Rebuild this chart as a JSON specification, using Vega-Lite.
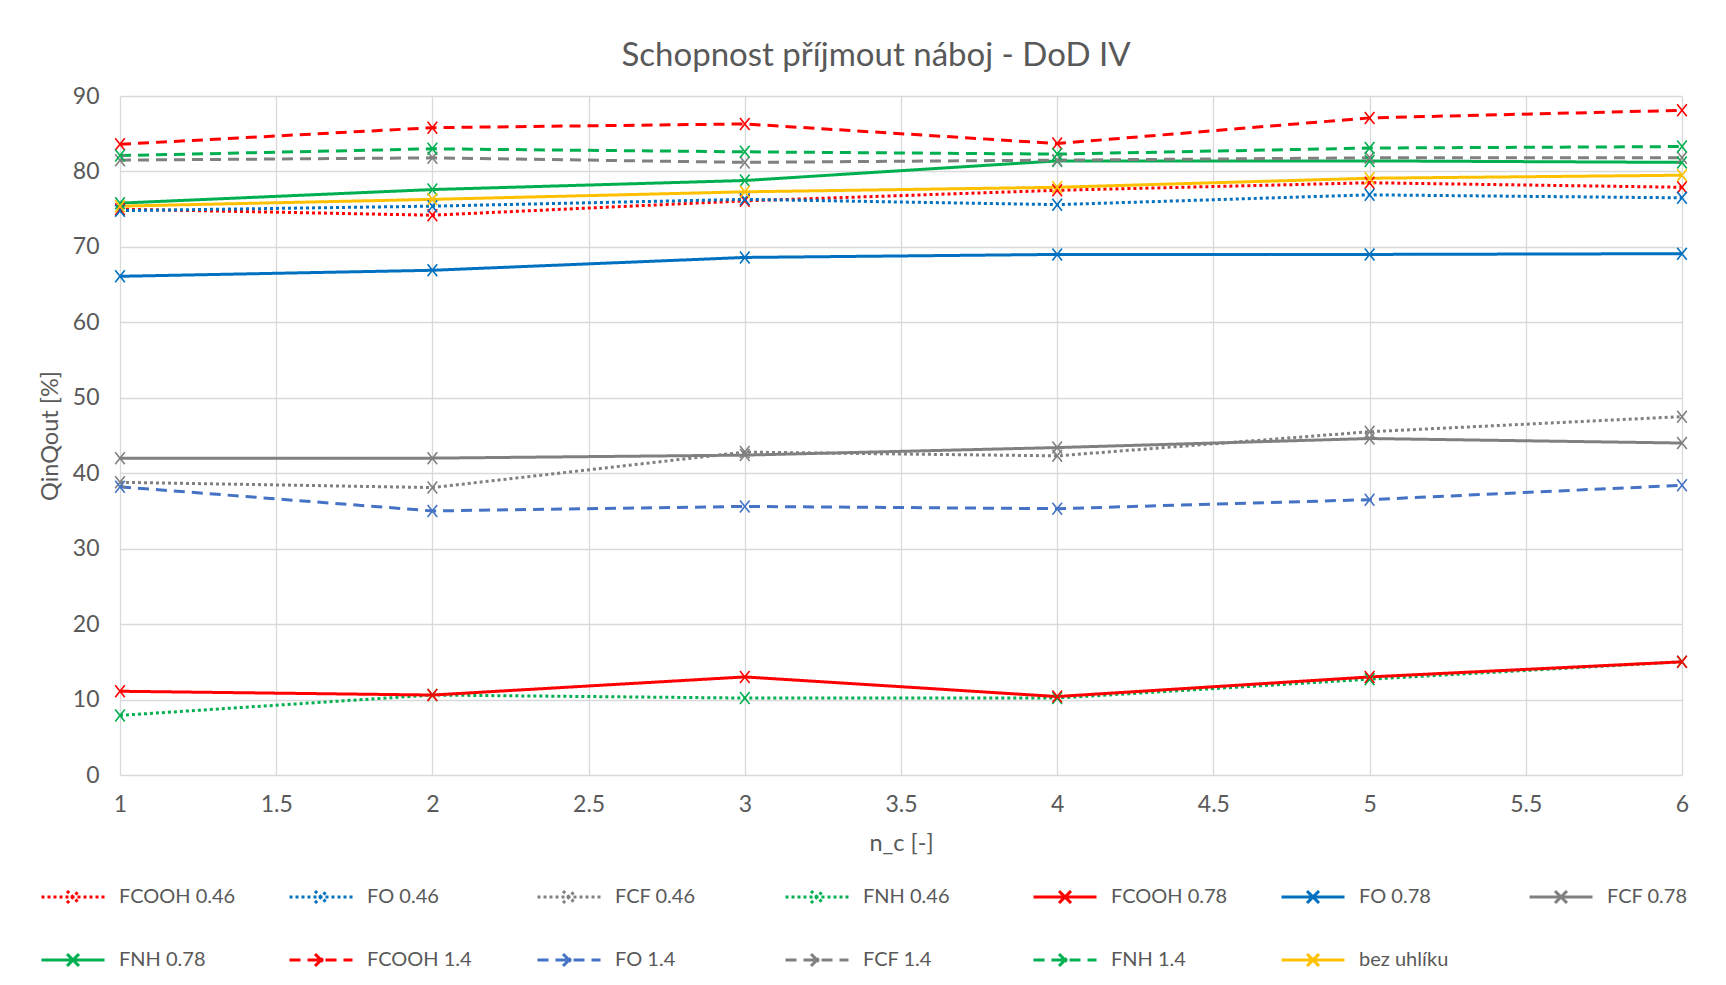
{
  "$schema": "https://vega.github.io/schema/vega-lite/v6.json",
  "width": 1562,
  "height": 679,
  "autosize": {"type": "none"},
  "padding": {"left": 120, "top": 96, "right": 44, "bottom": 210},
  "background": "white",
  "config": {
    "view": {"stroke": null},
    "font": "Lato",
    "axis": {"labelFont": "Lato", "titleFont": "Lato", "labelColor": "#595959", "titleColor": "#595959", "titleFontWeight": "normal", "labelFontSize": 23, "titleFontSize": 23.5, "gridColor": "#D9D9D9", "gridWidth": 1.3, "domain": false, "ticks": false},
    "legend": {"labelFont": "Lato", "labelFontSize": 20, "labelColor": "#595959"}
  },
  "title": {"text": "Schopnost příjmout náboj - DoD IV", "fontSize": 33, "font": "Lato", "fontWeight": "normal", "color": "#595959", "anchor": "middle", "dx": -25, "offset": 12},
  "data": {"values": [
    {"s": "FCOOH 0.46", "x": 1, "y": 75.0}, {"s": "FCOOH 0.46", "x": 2, "y": 74.2}, {"s": "FCOOH 0.46", "x": 3, "y": 76.1}, {"s": "FCOOH 0.46", "x": 4, "y": 77.5}, {"s": "FCOOH 0.46", "x": 5, "y": 78.5}, {"s": "FCOOH 0.46", "x": 6, "y": 77.9},
    {"s": "FO 0.46", "x": 1, "y": 74.8}, {"s": "FO 0.46", "x": 2, "y": 75.4}, {"s": "FO 0.46", "x": 3, "y": 76.3}, {"s": "FO 0.46", "x": 4, "y": 75.6}, {"s": "FO 0.46", "x": 5, "y": 76.9}, {"s": "FO 0.46", "x": 6, "y": 76.5},
    {"s": "FCF 0.46", "x": 1, "y": 38.8}, {"s": "FCF 0.46", "x": 2, "y": 38.1}, {"s": "FCF 0.46", "x": 3, "y": 42.8}, {"s": "FCF 0.46", "x": 4, "y": 42.3}, {"s": "FCF 0.46", "x": 5, "y": 45.5}, {"s": "FCF 0.46", "x": 6, "y": 47.5},
    {"s": "FNH 0.46", "x": 1, "y": 7.9}, {"s": "FNH 0.46", "x": 2, "y": 10.6}, {"s": "FNH 0.46", "x": 3, "y": 10.2}, {"s": "FNH 0.46", "x": 4, "y": 10.2}, {"s": "FNH 0.46", "x": 5, "y": 12.7}, {"s": "FNH 0.46", "x": 6, "y": 15.0},
    {"s": "FCOOH 0.78", "x": 1, "y": 11.1}, {"s": "FCOOH 0.78", "x": 2, "y": 10.6}, {"s": "FCOOH 0.78", "x": 3, "y": 13.0}, {"s": "FCOOH 0.78", "x": 4, "y": 10.4}, {"s": "FCOOH 0.78", "x": 5, "y": 13.0}, {"s": "FCOOH 0.78", "x": 6, "y": 15.0},
    {"s": "FO 0.78", "x": 1, "y": 66.1}, {"s": "FO 0.78", "x": 2, "y": 66.9}, {"s": "FO 0.78", "x": 3, "y": 68.6}, {"s": "FO 0.78", "x": 4, "y": 69.0}, {"s": "FO 0.78", "x": 5, "y": 69.0}, {"s": "FO 0.78", "x": 6, "y": 69.1},
    {"s": "FCF 0.78", "x": 1, "y": 42.0}, {"s": "FCF 0.78", "x": 2, "y": 42.0}, {"s": "FCF 0.78", "x": 3, "y": 42.4}, {"s": "FCF 0.78", "x": 4, "y": 43.4}, {"s": "FCF 0.78", "x": 5, "y": 44.6}, {"s": "FCF 0.78", "x": 6, "y": 44.0},
    {"s": "FNH 0.78", "x": 1, "y": 75.8}, {"s": "FNH 0.78", "x": 2, "y": 77.6}, {"s": "FNH 0.78", "x": 3, "y": 78.8}, {"s": "FNH 0.78", "x": 4, "y": 81.4}, {"s": "FNH 0.78", "x": 5, "y": 81.4}, {"s": "FNH 0.78", "x": 6, "y": 81.2},
    {"s": "FCOOH 1.4", "x": 1, "y": 83.6}, {"s": "FCOOH 1.4", "x": 2, "y": 85.8}, {"s": "FCOOH 1.4", "x": 3, "y": 86.3}, {"s": "FCOOH 1.4", "x": 4, "y": 83.7}, {"s": "FCOOH 1.4", "x": 5, "y": 87.1}, {"s": "FCOOH 1.4", "x": 6, "y": 88.1},
    {"s": "FO 1.4", "x": 1, "y": 38.2}, {"s": "FO 1.4", "x": 2, "y": 35.0}, {"s": "FO 1.4", "x": 3, "y": 35.6}, {"s": "FO 1.4", "x": 4, "y": 35.3}, {"s": "FO 1.4", "x": 5, "y": 36.5}, {"s": "FO 1.4", "x": 6, "y": 38.4},
    {"s": "FCF 1.4", "x": 1, "y": 81.5}, {"s": "FCF 1.4", "x": 2, "y": 81.8}, {"s": "FCF 1.4", "x": 3, "y": 81.2}, {"s": "FCF 1.4", "x": 4, "y": 81.5}, {"s": "FCF 1.4", "x": 5, "y": 81.8}, {"s": "FCF 1.4", "x": 6, "y": 81.8},
    {"s": "FNH 1.4", "x": 1, "y": 82.1}, {"s": "FNH 1.4", "x": 2, "y": 83.0}, {"s": "FNH 1.4", "x": 3, "y": 82.6}, {"s": "FNH 1.4", "x": 4, "y": 82.3}, {"s": "FNH 1.4", "x": 5, "y": 83.1}, {"s": "FNH 1.4", "x": 6, "y": 83.3},
    {"s": "bez uhlíku", "x": 1, "y": 75.4}, {"s": "bez uhlíku", "x": 2, "y": 76.3}, {"s": "bez uhlíku", "x": 3, "y": 77.3}, {"s": "bez uhlíku", "x": 4, "y": 77.9}, {"s": "bez uhlíku", "x": 5, "y": 79.1}, {"s": "bez uhlíku", "x": 6, "y": 79.5}
  ]},
  "encoding": {
    "x": {"field": "x", "type": "quantitative", "scale": {"domain": [1, 6], "nice": false, "zero": false},
      "axis": {"title": "n_c [-]", "values": [1, 1.5, 2, 2.5, 3, 3.5, 4, 4.5, 5, 5.5, 6], "format": ".1~f", "labelPadding": 18, "titlePadding": 15, "labelFlush": false}},
    "y": {"field": "y", "type": "quantitative", "scale": {"domain": [0, 90], "nice": false},
      "axis": {"title": "QinQout [%]", "values": [0, 10, 20, 30, 40, 50, 60, 70, 80, 90], "labelPadding": 21, "titlePadding": 10}},
    "color": {"field": "s", "type": "nominal",
      "scale": {"domain": ["FCOOH 0.46", "FO 0.46", "FCF 0.46", "FNH 0.46", "FCOOH 0.78", "FO 0.78", "FCF 0.78", "FNH 0.78", "FCOOH 1.4", "FO 1.4", "FCF 1.4", "FNH 1.4", "bez uhlíku"],
        "range": ["#FF0000", "#0070C0", "#808080", "#00B050", "#FF0000", "#0070C0", "#808080", "#00B050", "#FF0000", "#4472C4", "#808080", "#00B050", "#FFC000"]},
      "legend": {"title": null, "orient": "none", "legendX": -80, "legendY": 768, "columns": 7, "direction": "horizontal", "gridAlign": "all", "columnPadding": 47, "rowPadding": 18, "labelOffset": 13, "padding": 0,
        "symbolType": "M-1,0L1,0M-0.19,-0.19L0.19,0.19M-0.19,0.19L0.19,-0.19", "symbolSize": 3969, "symbolStrokeWidth": 3, "labelLimit": 300}}
  },
  "layer": [
    {"mark": {"type": "line", "strokeWidth": 3, "strokeCap": "butt"},
      "encoding": {"strokeDash": {"field": "s", "type": "nominal",
        "scale": {"domain": ["FCOOH 0.46", "FO 0.46", "FCF 0.46", "FNH 0.46", "FCOOH 0.78", "FO 0.78", "FCF 0.78", "FNH 0.78", "FCOOH 1.4", "FO 1.4", "FCF 1.4", "FNH 1.4", "bez uhlíku"],
          "range": [[3, 3], [3, 3], [3, 3], [3, 3], [1, 0], [1, 0], [1, 0], [1, 0], [11, 7], [11, 7], [11, 7], [11, 7], [1, 0]]}}}},
    {"mark": {"type": "point", "shape": "M-0.8,-1L0.8,1M-0.8,1L0.8,-1", "size": 144, "filled": false, "strokeWidth": 1.6, "opacity": 1}}
  ]
}
